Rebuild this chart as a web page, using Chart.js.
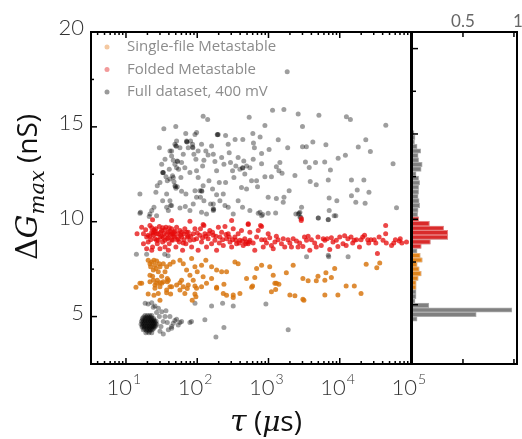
<!DOCTYPE html>
<html lang="en">
<head>
    <meta charset="UTF-8">
    <title>Metastable states - tau vs dGmax</title>
    <script src="https://cdn.jsdelivr.net/npm/chart.js"></script>
    <style>
        body { margin: 0; background: #fff; }
        .wrap { position: relative; width: 522px; height: 439px; }
        .wrap canvas { position: absolute; left: 0; top: 0; }
    </style>
</head>
<body>
    <div class="wrap">
        <canvas id="scatterChart" width="522" height="439"></canvas>
        <canvas id="histChart" width="522" height="439"></canvas>
    </div>

    <script>
        // [tau (us), dGmax (nS)]
        const fullPoints = [
            // sparse top
            [1830,17.9],[1140,15.88],[1645,15.91],[2610,15.68],[5100,15.61],[12400,15.53],[14100,15.39],[121,15.56],[140,15.39],[536,15.51],[891,15.07],[3000,15.02],[44300,15.09],[50,15.02],[34,14.9],
            // upper band, long tau
            [69,14.65],[93,14.6],[98,14.7],[197,14.6],[250,14.55],[340,14.34],[436,14.34],[603,14.65],[763,14.46],[615,14.15],[634,13.9],[1370,14.32],[3000,13.95],[3400,13.95],[4190,14.2],[6390,14.06],[23200,14.32],[18200,13.94],[26900,13.7],[12000,13.5],[9500,13.35],[56000,13.06],[3300,13.15],[4570,13.12],[6150,13.15],[7400,12.72],[3730,12.86],[2350,12.44],[3850,12.12],[4680,11.95],[6900,12.2],[14600,12.2],[21800,12.2],[17600,11.67],[25700,11.55],[14600,11.37],[7100,11.25],[9100,11.1],[16800,11.02],[22700,10.97],[62600,10.73],[1950,11.63],[1650,11.29],[1290,11.23],[990,11.29],[760,10.5],[830,10.38],[1260,10.46],[2620,10.41],[2840,10.24],[5000,10.2],[6900,10.12],[8350,10.31],[2760,10.5],[1400,12.68],[1100,12.37],[1550,12.56],[890,12.37],[1290,12.9],[800,13.06],[1860,13.9],[1445,13.12],[1020,13.8],[800,13.6],[990,10.45],[1610,11.02],[2910,10.76],[7110,10.59],
            // upper cluster, short tau
            [31.7,13.03],[33.4,12.59],[36.4,12.37],[38,12.16],[41.4,13.73],[43.7,13.47],[46.1,13.24],[48.6,13.03],[51.3,12.85],[52.4,11.84],[50.2,11.77],[48.6,14.08],[57.2,13.9],[54.8,12.77],[59,12.33],[63.7,13.55],[60.3,13.12],[70.9,14.25],[74.8,13.9],[80.7,14.25],[86,14.08],[89.8,13.55],[95.8,13.29],[97.8,12.68],[103,12.33],[109,11.63],[111,11.29],[121,11.9],[124,13.24],[119,12.94],[132,13.73],[142,13.52],[159,13.99],[168,13.55],[177,13.17],[187,12.68],[204,12.07],[220,13.38],[237,13.03],[250,12.07],[272,14.08],[281,13.64],[293,13.12],[313,12.68],[327,12.33],[348,12.94],[375,13.38],[397,12.77],[418,11.81],[450,13.2],[465,12.51],[492,12.94],[548,12.85],[578,12.16],[610,13.29],[680,12.16],[702,11.84],
            [37.2,11.46],[41.4,11.11],[43.7,10.85],[39.3,10.59],[57.2,10.72],[69.4,11.46],[79,10.59],[87.9,10.94],[97.8,11.29],[124,11.11],[135,10.41],[154,10.94],[168,10.59],[187,11.42],[29.4,13.9],[27.5,11.9],[26.3,11.55],[24.7,10.76],[21.7,10.41],[15.7,11.46],[16,10.5],[23,10.59],[32.7,11.11],[60.3,11.6],[208,11.11],[30,12.07],[35.3,13.29],[40.5,12.77],[46.1,12.33],[51.3,14.25],[67,12.85],[79,12.59],[93,11.63],[103,13.73],[115,14.08],[146,12.16],[164,11.72],[232,11.46],[272,10.76],[320,10.41],[375,11.11],[432,10.76],[492,11.72],[548,10.59],
            [50,14.0],[51,13.98],[52.4,13.2],[53,13.18],[48.6,11.9],[49.5,11.85],[71,14.22],[72,14.2],[86,13.94],[87,13.9],[191,14.6],[193,14.58],[432,12.85],[436,12.83],[115,11.63],[116,11.6],[168,10.68],[170,10.65],[32.7,12.6],[33.2,12.58],[43.7,13.73],[45,12.42],[41.4,12.25],[47.2,12.1],
            // around the folded band
            [14,8.28],[19.5,8.28],[35,8.28],[39,8.2],[3420,8.15],[7000,8.15],[13100,8.15],[6900,8.23],[15.7,10.45],[21.2,10.27],[26.9,10.32],[37.2,10.76],[42.3,10.85],[68,10.8],[168,10.94],[245,10.85],[115,10.5],[718,10.45],[800,10.32],[2420,10.41],[2700,10.45],[2770,10.24],[4990,10.2],[6890,10.1],[8810,10.32],
            // low conductance
            [18.6,5.7],[20.5,5.66],[23,5.73],[25.5,5.56],[28.5,5.44],[31.7,5.26],[36.4,5.31],[41.4,5.0],[48.6,4.79],[57.2,4.69],[54.2,4.56],[43.7,4.48],[38,4.69],[33.4,4.74],[29.4,5.0],[31,4.48],[39.3,4.3],[33.4,4.08],[79,4.69],[83,4.74],[128,4.83],[237,4.42],[183,3.92],[93,5.7],[159,5.56],[227,5.7],[320,5.56],[920,5.66],[24.2,5.49],[26.9,5.21],[46.1,4.65],[51.3,4.86],[60.3,4.74],[35.3,5.0],[30,4.22],[43.7,4.39],[1890,4.3],
            // dense open-pore blob
            [18.5,5.05],[20,5.05],[21.5,5.05],[23,5.05],
            [17,4.9],[18.5,4.9],[20,4.9],[21.5,4.9],[23,4.9],[24.5,4.9],
            [16.5,4.75],[17.8,4.75],[19,4.75],[20.5,4.75],[22,4.75],[23.5,4.75],[25,4.75],[26.5,4.75],
            [16.3,4.6],[17.5,4.6],[19,4.6],[20.5,4.6],[22,4.6],[23.5,4.6],[25,4.6],[27,4.6],
            [16.8,4.45],[18,4.45],[19.5,4.45],[21,4.45],[22.5,4.45],[24,4.45],[25.5,4.45],
            [17.5,4.3],[19,4.3],[20.5,4.3],[22,4.3],[23.5,4.3],
            [19,4.15],[21,4.15],[23,4.15],
            [17.7,4.98],[19.2,4.98],[20.8,4.98],[22.3,4.98],[17.2,4.82],[18.7,4.82],[20.2,4.82],[21.8,4.82],[23.3,4.82],[24.8,4.82],
            [17,4.68],[18.3,4.68],[19.8,4.68],[21.3,4.68],[22.8,4.68],[24.3,4.68],[25.8,4.68],[17,4.52],[18.4,4.52],[19.8,4.52],[21.3,4.52],[22.8,4.52],[24.3,4.52],[26,4.52],
            [18,4.37],[19.6,4.37],[21.2,4.37],[22.8,4.37],[24.4,4.37],[19.8,4.22],[21.6,4.22]
        ];

        const foldedPoints = [
            [14.3,9.36],[16.6,9.71],[17.6,8.84],[19.5,9.19],[20.5,8.93],[21.7,9.8],[23,9.45],[23.6,8.67],[24.7,9.57],[25.5,9.1],[26.9,9.36],[27.5,8.84],[29.4,9.75],[30,9.19],[31.7,9.54],[32.7,8.93],[34.1,9.36],[35.3,8.67],[36.4,9.71],[38,9.1],[39.3,9.45],[40.5,8.84],[42.3,9.28],[43.7,9.63],[45,9.02],[47.1,9.45],[48.6,9.19],[50.2,8.67],[51.3,9.71],[54.2,9.36],[56,8.93],[57.2,9.54],[60.3,9.19],[62.3,8.49],[65,9.36],[67,9.63],[69.3,8.84],[72.4,9.19],[74.8,9.45],[79,9.02],[83.4,8.67],[87.9,9.36],[92.8,9.63],[97.8,9.1],[103,8.49],[109,9.28],[115,8.93],[124,9.8],[128,9.36],[135,8.67],[142,9.1],[150,9.54],[159,8.84],[168,9.28],[177,9.02],[187,8.49],[198,9.71],[208,9.19],[220,9.45],[232,8.75],[245,9.75],[258,9.1],[272,9.36],[288,8.93],[304,8.67],[320,9.63],[338,9.19],[357,8.84],[375,9.36],[397,9.02],[418,9.54],[442,8.75],[465,9.1],[492,8.93],[519,8.84],[548,9.02],
            [17.6,9.36],[18.9,9.57],[20.5,9.28],[22.2,9.05],[24.2,9.28],[26.3,9.63],[28.4,9.02],[30.7,9.45],[33.4,9.16],[37.2,9.33],[41.4,9.5],[46.1,9.36],[52.4,9.05],[58.5,9.28],[63.7,8.88],[70.9,9.45],[80.7,9.23],[89.8,9.05],[100,9.4],[111,9.63],[119,9.16],[132,9.23],[146,9.36],[164,9.45],[183,9.23],[204,8.88],[227,9.05],[253,9.33],[281,9.19],[313,9.05],[348,9.02],[387,8.88],[432,8.98],[480,8.84],[536,8.93],[19.5,8.58],[23,8.49],[30,8.58],[39.3,8.49],
            [23,9.68],[25.5,9.5],[28.4,9.36],[31.7,9.23],[35.3,9.57],[39.3,9.16],[43.7,9.36],[48.6,9.5],[54.2,9.1],[60.3,9.45],[35.3,9.02],[43.7,9.05],[26.9,9.02],[24.2,9.4],[32.7,9.68],[40.5,9.68],[47.1,9.23],[65,9.05],[74.8,9.23],[21.7,9.23],
            [23.6,10.1],[43.7,10.06],[79,10.03],[121,9.85],[304,10.06],[519,9.85],[800,9.75],[2900,10.15],
            [548,9.45],[609,8.88],[681,9.19],[718,9.54],[773,9.8],[520,9.89],[844,8.67],[889,9.05],[937,8.88],[1040,9.16],[1165,8.58],[1230,8.93],[1360,9.05],[1520,8.84],[1690,8.67],[1880,9.05],[1995,8.88],[2220,9.1],[2600,8.67],[2740,8.88],[2880,10.06],[3200,9.19],[3420,9.02],[3800,8.49],[4000,9.05],[4450,8.88],[4950,9.19],[5500,8.75],[6180,9.02],[6650,9.1],[7240,8.53],[8040,8.93],[8950,9.02],[10000,9.19],[11100,8.84],[11700,9.26],[13000,9.1],[14400,9.19],[15200,8.88],[17200,9.05],[18900,8.67],[21000,9.19],[22300,9.28],[25500,8.88],[27400,9.05],[30500,9.05],[33800,8.32],[35700,9.19],[44100,9.8],[44100,9.36],[45000,8.88],[53300,8.75],[60400,9.05],[70600,9.1],[74400,8.88],[86400,8.93],
            [642,8.49],[800,9.05],[990,9.36],[1100,8.75],[1290,9.23],[1610,9.1],[2100,8.67],[2470,8.98],[3040,8.7],[3600,9.23],[4690,8.67],[5860,9.1],[7630,9.16],[9420,8.7],[12300,8.75],[16000,9.02],[19900,9.05],[24700,9.05],[32100,8.88],[40500,9.02],[57300,8.88],[68500,8.98]
        ];

        const singlePoints = [
            [20.5,7.97],[21.7,7.79],[23,7.88],[25.5,7.71],[26.9,7.93],[30,7.62],[24.2,7.45],[28.4,7.36],[31.7,7.13],[33.4,7.79],[37.2,7.62],[41.4,7.76],[46.1,7.88],[57.2,7.97],[63.7,7.79],[70.9,7.45],[83.4,8.06],[92.8,7.62],[100,7.36],[115,7.71],[132,7.97],[159,7.62],[187,7.45],[220,7.36],[258,7.36],[338,7.88],[375,7.79],[492,7.01],
            [13.8,6.54],[16.6,6.75],[24.2,6.92],[26.9,6.75],[30,6.57],[33.4,6.83],[39.3,6.92],[43.7,6.57],[51.3,6.66],[57.2,6.4],[67,6.22],[74.8,6.66],[87.9,6.92],[97.8,6.49],[121,7.1],[135,6.75],[159,7.01],[187,6.49],[232,6.22],[320,6.14],[397,6.22],[21.7,7.18],[25.5,6.49],[37.2,6.4],[60.3,6.92],[79,7.18],
            [22.2,7.62],[26.3,7.53],[29.4,7.79],[23.6,7.13],[27.5,6.92],[31.7,6.75],[35.3,7.36],[24.7,7.97],[38,7.01],
            [681,7.53],[800,7.71],[1040,7.62],[1165,7.18],[1230,6.75],[1400,6.71],[1780,7.31],[2220,7.71],[3040,7.01],[3600,6.89],[4690,6.89],[4950,7.13],[6180,6.92],[6400,7.31],[7630,7.06],[8490,7.53],[12300,6.61],[16000,6.61],[19900,6.22],[23500,7.76],[33100,7.58],[36400,7.83],[1100,6.31],[1260,6.43],[1995,6.14],[2350,6.1],[3040,5.91],[6180,6.14],[9420,6.14],[580,6.54],[642,7.06],
            [15.7,6.75],[21.7,6.83],[25.5,6.66],[30,6.78],[38,6.83],[41.4,6.57],[57.2,6.78],[63.7,6.57],[72.4,6.48],[92.8,6.61],[115,6.57],[187,6.54],[237,6.71],[598,6.61],[1290,6.75],[20.5,6.19],[24.7,6.13],[28.4,6.22],[37.2,6.26],[42.3,6.19],[92.8,6.19],[95.8,6.05],[258,6.13],[320,6.01],[3140,5.86],[85,5.86],[30,5.86]
        ];

        // Histogram (normalised counts) per dGmax bin
        const histBins = [4.16,4.43,4.69,4.96,5.22,5.49,5.76,6.02,6.29,6.55,6.82,7.09,7.35,7.62,7.88,8.15,8.42,8.68,8.95,9.22,9.48,9.75,10.01,10.28,10.55,10.81,11.08,11.34,11.61,11.88,12.14,12.41,12.67,12.94,13.21,13.47,13.74,14.0,14.27,14.54,14.8,15.07];
        const histFull = [0.05,0.63,0.98,0.165,0.03,0.04,0.04,0.04,0.04,0.06,0.09,0.07,0.05,0.10,0.08,0.05,0.09,0.18,0.35,0.35,0.31,0.17,0.065,0.055,0.06,0.075,0.07,0.06,0.065,0.065,0.075,0.065,0.04,0.09,0.1,0.065,0.06,0.085,0.05,0.025,0.03,0.02];
        const histSingle = [0,0,0,0,0,0,0,0.04,0.04,0.06,0.09,0.07,0.05,0.10,0.08,0,0,0,0,0,0,0,0,0,0,0,0,0,0,0,0,0,0,0,0,0,0,0,0,0,0,0];
        const histFolded = [0,0,0,0,0,0,0,0,0,0,0,0,0,0,0,0,0.09,0.18,0.35,0.35,0.31,0.17,0.065,0,0,0,0,0,0,0,0,0,0,0,0,0,0,0,0,0,0,0];

        const yTicks = [5, 10, 15, 20];
        const xTickExp = [1, 2, 3, 4, 5];
        const histTicks = [0.5, 1];
        const histTickLabels = ['0.5', '1'];

        const legendItems = [
            { text: 'Single-file Metastable', color: '#f4c8a0' },
            { text: 'Folded Metastable', color: '#f29a9a' },
            { text: 'Full dataset, 400 mV', color: '#9a9a9a' }
        ];

        const toXY = pts => pts.map(p => ({ x: p[0], y: p[1] }));
        const toBars = vals => histBins.map((b, i) => ({ x: vals[i], y: b })).filter(d => d.x > 0);

        function line(ctx, x1, y1, x2, y2) {
            ctx.beginPath(); ctx.moveTo(x1, y1); ctx.lineTo(x2, y2); ctx.stroke();
        }

        // draw a run of text pieces with different fonts
        function drawRich(ctx, parts, x, y) {
            let total = 0;
            parts.forEach(p => { ctx.font = p.font; p.w = ctx.measureText(p.text).width; total += p.w; });
            let cx = x - total / 2;
            parts.forEach(p => { ctx.font = p.font; ctx.fillText(p.text, cx, y + (p.dy || 0)); cx += p.w; });
        }

        const tickFont = '300 22px Lato, "Open Sans", sans-serif';

        const mainFrame = {
            id: 'mainFrame',
            afterDraw(chart) {
                const { ctx, chartArea: a, scales: { x, y } } = chart;
                ctx.save();
                ctx.strokeStyle = '#000';
                ctx.lineWidth = 2;
                ctx.strokeRect(a.left, a.top, a.right - a.left, a.bottom - a.top);

                // log ticks top + bottom, pointing in
                ctx.lineWidth = 1.5;
                for (let e = 0; e <= 5; e++) {
                    for (let m = 1; m <= 9; m++) {
                        const v = m * Math.pow(10, e);
                        if (v < x.min || v > x.max) continue;
                        const px = x.getPixelForValue(v);
                        const len = m === 1 ? 6 : 3;
                        line(ctx, px, a.bottom, px, a.bottom - len);
                        line(ctx, px, a.top, px, a.top + len);
                    }
                }
                // y ticks on the left
                for (let v = 5; v <= 20; v += 2.5) {
                    const py = y.getPixelForValue(v);
                    line(ctx, a.left, py, a.left + (v % 5 === 0 ? 6 : 3), py);
                }

                // tick labels
                ctx.fillStyle = '#333';
                ctx.font = tickFont;
                ctx.textAlign = 'right';
                ctx.textBaseline = 'middle';
                yTicks.forEach(v => ctx.fillText(String(v), 84, y.getPixelForValue(v) - 4));

                ctx.textBaseline = 'alphabetic';
                xTickExp.forEach(e => {
                    const px = x.getPixelForValue(Math.pow(10, e));
                    ctx.font = tickFont;
                    ctx.textAlign = 'right';
                    ctx.fillText('10', px + 6, 395);
                    ctx.font = '300 14px Lato, "Open Sans", sans-serif';
                    ctx.textAlign = 'left';
                    ctx.fillText(String(e), px + 7, 384);
                });

                // axis titles
                ctx.fillStyle = '#111';
                ctx.textAlign = 'left';
                drawRich(ctx, [
                    { text: '\u03C4', font: 'italic 30px "DejaVu Serif"' },
                    { text: ' (', font: '28px "Open Sans"' },
                    { text: '\u03BC', font: 'italic 28px "DejaVu Serif"' },
                    { text: 's)', font: '28px "Open Sans"' }
                ], 266, 431);

                ctx.save();
                ctx.translate(37, 187);
                ctx.rotate(-Math.PI / 2);
                drawRich(ctx, [
                    { text: '\u0394', font: '30px "DejaVu Serif"' },
                    { text: 'G', font: 'italic 30px "DejaVu Serif"' },
                    { text: 'max', font: 'italic 21px "DejaVu Serif"', dy: 7 },
                    { text: ' (nS)', font: '28px "Open Sans"' }
                ], 0, 0);
                ctx.restore();

                // legend inside the plot
                ctx.font = '15px "Open Sans"';
                ctx.textBaseline = 'middle';
                ctx.textAlign = 'left';
                legendItems.forEach((item, i) => {
                    const ly = 47 + i * 22.5;
                    ctx.fillStyle = item.color;
                    ctx.beginPath(); ctx.arc(107, ly, 2.5, 0, Math.PI * 2); ctx.fill();
                    ctx.fillStyle = '#8c8c8c';
                    ctx.fillText(item.text, 127, ly);
                });
                ctx.restore();
            }
        };

        const histFrame = {
            id: 'histFrame',
            afterDraw(chart) {
                const { ctx, chartArea: a, scales: { x, y } } = chart;
                ctx.save();
                ctx.strokeStyle = '#000';
                ctx.lineWidth = 2;
                ctx.strokeRect(a.left, a.top, a.right - a.left, a.bottom - a.top);
                ctx.lineWidth = 1.5;
                for (let v = 5; v <= 20; v += 2.5) {
                    const py = y.getPixelForValue(v);
                    line(ctx, a.left, py, a.left + (v % 5 === 0 ? 6 : 4), py);
                }
                ctx.fillStyle = '#666';
                ctx.font = '17px Lato, "Open Sans", sans-serif';
                ctx.textAlign = 'center';
                ctx.textBaseline = 'alphabetic';
                histTicks.forEach((v, i) => {
                    const px = x.getPixelForValue(v);
                    line(ctx, px, a.top, px, a.top + 5);
                    line(ctx, px, a.bottom, px, a.bottom - 5);
                    ctx.fillText(histTickLabels[i], px + (v === 1 ? 4 : 0), 27);
                });
                ctx.restore();
            }
        };

        // Scatter: tau vs dGmax
        const scatterChart = new Chart(document.getElementById('scatterChart'), {
            type: 'scatter',
            data: {
                datasets: [
                    {
                        label: 'Full dataset, 400 mV',
                        data: toXY(fullPoints),
                        backgroundColor: 'rgba(0, 0, 0, 0.38)',
                        pointRadius: 2.5,
                        borderWidth: 0,
                        order: 3
                    },
                    {
                        label: 'Single-file Metastable',
                        data: toXY(singlePoints),
                        backgroundColor: 'rgba(215, 115, 10, 0.82)',
                        pointRadius: 2.5,
                        borderWidth: 0,
                        order: 2
                    },
                    {
                        label: 'Folded Metastable',
                        data: toXY(foldedPoints),
                        backgroundColor: 'rgba(230, 10, 10, 0.75)',
                        pointRadius: 2.5,
                        borderWidth: 0,
                        order: 1
                    }
                ]
            },
            options: {
                responsive: false,
                animation: false,
                layout: { padding: { left: 91, right: 111, top: 32, bottom: 75 } },
                scales: {
                    x: { type: 'logarithmic', min: 3.23, max: 100000, display: false },
                    y: { type: 'linear', min: 2.5, max: 20, display: false }
                },
                plugins: { legend: { display: false }, tooltip: { enabled: false } }
            },
            plugins: [mainFrame]
        });

        // Side histogram
        const histChart = new Chart(document.getElementById('histChart'), {
            type: 'bar',
            data: {
                datasets: [
                    { label: 'Full dataset', data: toBars(histFull), backgroundColor: '#808080', borderColor: '#ababab', borderWidth: 1, grouped: false, order: 3 },
                    { label: 'Single-file', data: toBars(histSingle), backgroundColor: '#e0841c', borderColor: '#eeb070', borderWidth: 1, grouped: false, order: 2 },
                    { label: 'Folded', data: toBars(histFolded), backgroundColor: '#d92b2b', borderColor: '#e88080', borderWidth: 1, grouped: false, order: 1 }
                ]
            },
            options: {
                indexAxis: 'y',
                responsive: false,
                animation: false,
                layout: { padding: { left: 412, right: 5, top: 32, bottom: 75 } },
                datasets: { bar: { barPercentage: 1, categoryPercentage: 1 } },
                scales: {
                    x: { type: 'linear', min: 0, max: 1.03, display: false },
                    y: { type: 'linear', min: 2.5, max: 20, display: false }
                },
                plugins: { legend: { display: false }, tooltip: { enabled: false } }
            },
            plugins: [histFrame]
        });
    </script>
</body>
</html>
